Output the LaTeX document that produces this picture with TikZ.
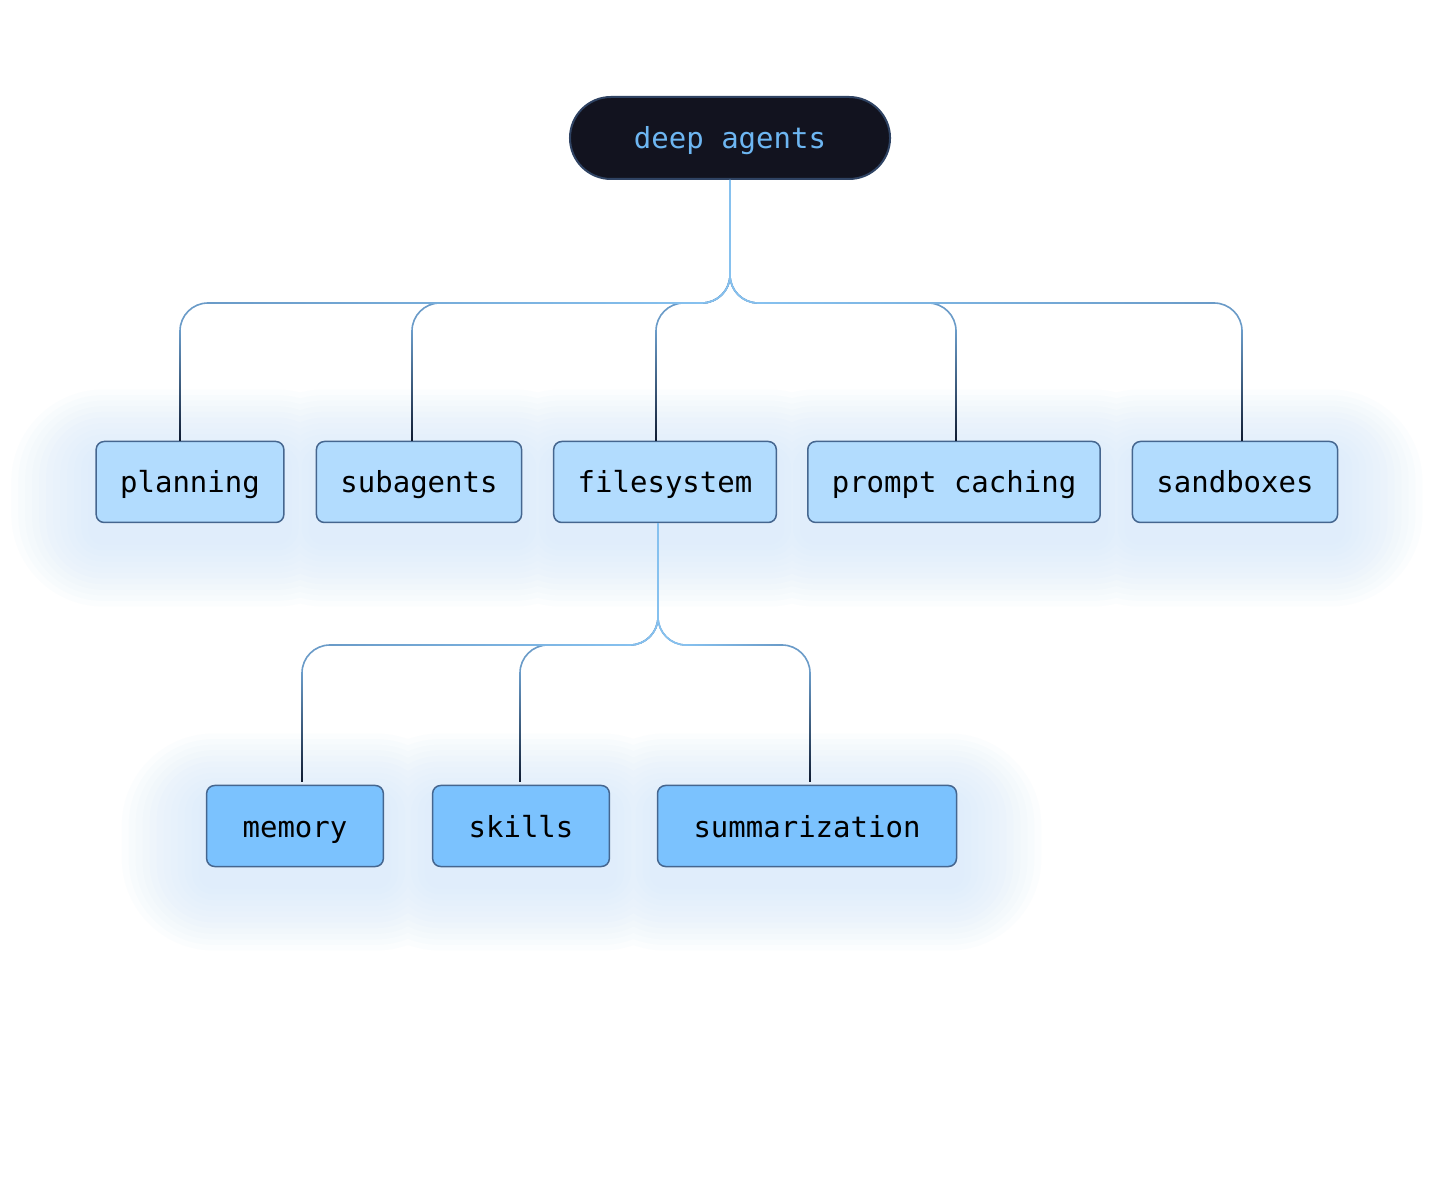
\documentclass[tikz,border=0pt]{standalone}
\usepackage{fontspec}
\setmonofont{DejaVu Sans Mono}
\usetikzlibrary{backgrounds,calc}

\definecolor{rootfill}{HTML}{12131F}
\definecolor{rootedge}{HTML}{2F4363}
\definecolor{roottext}{HTML}{6DB6F2}
\definecolor{topicfill}{HTML}{B2DCFE}
\definecolor{subfill}{HTML}{7BC2FE}
\definecolor{boxedge}{HTML}{45668F}
\definecolor{linelight}{HTML}{86C1EF}
\definecolor{linemid}{HTML}{6A9BC8}
\definecolor{linedark}{HTML}{0E1A30}
\definecolor{glowblue}{HTML}{D6E9FB}

\begin{document}
\begin{tikzpicture}[x=1pt,y=1pt,
	boxtext/.style={font=\ttfamily\fontsize{29}{34}\selectfont, text height=22pt, text depth=0pt},
	rootnode/.style={boxtext, rectangle, rounded corners=41pt, minimum height=82pt, inner xsep=64pt, fill=rootfill, draw=rootedge, line width=2pt, text=roottext},
	topic/.style={boxtext, rectangle, rounded corners=8pt, minimum height=81pt, inner xsep=24pt, fill=topicfill, draw=boxedge, line width=1.5pt, text=black},
	subtopic/.style={topic, inner xsep=36pt, fill=subfill},
	stem/.style={draw=linelight, line width=1.6pt, rounded corners=28pt},
	branch/.style={draw=linemid, line width=1.6pt, rounded corners=28pt},
	fadeline/.style={top color=linemid, bottom color=linedark},
	glow/.style={fill=glowblue, fill opacity=0.09}]
	\useasboundingbox (0,0) rectangle (1434,1192);
	% nodes
	\node[rootnode] (root) at (730,1054) {deep agents};
	\node[topic] (planning) at (190,710) {planning};
	\node[topic] (subagents) at (419,710) {subagents};
	\node[topic] (filesystem) at (665,710) {filesystem};
	\node[topic] (caching) at (954,710) {prompt caching};
	\node[topic] (sandboxes) at (1235,710) {sandboxes};
	\node[subtopic] (memory) at (295,366) {memory};
	\node[subtopic] (skills) at (521,366) {skills};
	\node[subtopic] (summarization) at (807,366) {summarization};
	% junctions
	\coordinate (bar1) at (730,889);
	\coordinate (j1) at (730,917);
	\coordinate (bar2) at (658,547);
	\coordinate (j2) at (658,575);
	% first level
	\foreach \n/\dx in {planning/-10,subagents/-7,filesystem/-9,caching/2,sandboxes/7}{
		\draw[branch] (j1) -- (bar1) -| ([xshift=\dx]\n.north);
		\shade[fadeline] ([xshift=\dx-0.8, yshift=110]\n.north) rectangle ([xshift=\dx+0.8]\n.north);
	}
	\shade[left color=linemid, right color=linelight] (208,888.2) rectangle (702,889.8);
	\shade[left color=linelight, right color=linemid] (758,888.2) rectangle (1214,889.8);
	\draw[stem] (root.south) -- (bar1) -- ++(-28,0);
	\draw[stem] (root.south) -- (bar1) -- ++(28,0);
	% second level
	\foreach \n/\dx in {memory/7,skills/-1,summarization/3}{
		\draw[branch] (j2) -- (bar2) -| ([xshift=\dx, yshift=3]\n.north);
		\shade[fadeline] ([xshift=\dx-0.8, yshift=112]\n.north) rectangle ([xshift=\dx+0.8, yshift=3]\n.north);
	}
	\shade[left color=linemid, right color=linelight] (330,546.2) rectangle (630,547.8);
	\shade[left color=linelight, right color=linemid] (686,546.2) rectangle (782,547.8);
	\draw[stem] ([xshift=-7]filesystem.south) -- (bar2) -- ++(-28,0);
	\draw[stem] ([xshift=-7]filesystem.south) -- (bar2) -- ++(28,0);
	% glow
	\begin{scope}[on background layer]
		\fill[white] (0,0) rectangle (1434,1192);
		\foreach \g in {7,14,...,84}
			\fill[glow, rounded corners={(8+\g)*1pt}]
				foreach \n in {planning,subagents,filesystem,caching,sandboxes,memory,skills,summarization}
				{ ($(\n.south west)+(-\g,-0.8*\g-16)$) rectangle ($(\n.north east)+(\g,0.8*\g-16)$) };
	\end{scope}
\end{tikzpicture}
\end{document}
